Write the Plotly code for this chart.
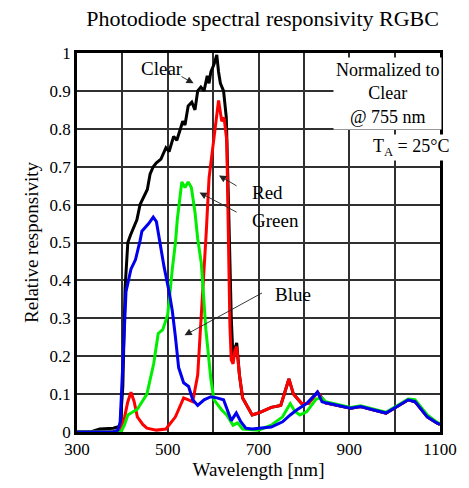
import plotly.graph_objects as go

# Clear (black)
clear_x = [300, 330, 350, 380, 395, 401, 406, 412, 418, 425, 432, 439, 447, 455, 461, 468, 475, 485, 496, 503, 513, 520, 528, 533, 538, 545, 553, 560, 566, 573, 580, 587, 591, 595, 602, 608, 612, 616, 623, 629, 634, 640, 644, 648, 652, 658, 665, 686, 700, 728, 749, 767, 777, 795, 810, 830, 848, 903, 925, 954, 981, 1009, 1030, 1045, 1072, 1093, 1100]
clear_y = [0, 0, 0.008, 0.01, 0.015, 0.12, 0.38, 0.5, 0.52, 0.54, 0.56, 0.6, 0.62, 0.64, 0.68, 0.7, 0.71, 0.72, 0.75, 0.74, 0.78, 0.77, 0.8, 0.82, 0.81, 0.86, 0.87, 0.85, 0.9, 0.91, 0.9, 0.94, 0.92, 0.95, 0.97, 0.995, 0.95, 0.92, 0.9, 0.83, 0.6, 0.3, 0.19, 0.22, 0.235, 0.15, 0.09, 0.045, 0.05, 0.065, 0.07, 0.14, 0.1, 0.075, 0.075, 0.105, 0.077, 0.063, 0.067, 0.058, 0.05, 0.07, 0.085, 0.08, 0.04, 0.024, 0.02]

# Red
red_x = [300, 395, 405, 412, 419, 426, 433, 445, 454, 475, 496, 517, 535, 546, 555, 566, 577, 585, 591, 598, 605, 612, 619, 624, 630, 634, 637, 640, 644, 648, 652, 658, 665, 686, 700, 728, 749, 767, 777, 795, 810, 830, 848, 903, 925, 954, 981, 1009, 1030, 1045, 1072, 1093, 1100]
red_y = [0, 0, 0.04, 0.08, 0.105, 0.08, 0.04, 0.02, 0.01, 0.005, 0.008, 0.04, 0.09, 0.085, 0.08, 0.15, 0.36, 0.53, 0.67, 0.74, 0.82, 0.875, 0.82, 0.83, 0.77, 0.5, 0.28, 0.19, 0.18, 0.215, 0.225, 0.15, 0.09, 0.045, 0.05, 0.065, 0.07, 0.14, 0.1, 0.075, 0.075, 0.105, 0.077, 0.063, 0.067, 0.058, 0.05, 0.07, 0.085, 0.08, 0.04, 0.024, 0.02]

# Green
green_x = [300, 397, 405, 412, 433, 454, 469, 479, 489, 500, 510, 517, 521, 531, 538, 545, 552, 560, 566, 574, 584, 595, 602, 619, 630, 644, 654, 665, 700, 728, 753, 770, 780, 791, 806, 827, 840, 848, 903, 925, 954, 981, 1009, 1030, 1045, 1072, 1093, 1100]
green_y = [0, 0, 0.02, 0.045, 0.06, 0.1, 0.18, 0.26, 0.27, 0.31, 0.43, 0.5, 0.56, 0.66, 0.645, 0.66, 0.645, 0.58, 0.51, 0.445, 0.27, 0.14, 0.085, 0.058, 0.045, 0.018, 0.024, 0.008, 0.005, 0.018, 0.04, 0.075, 0.055, 0.045, 0.053, 0.087, 0.09, 0.08, 0.065, 0.069, 0.06, 0.052, 0.072, 0.087, 0.085, 0.045, 0.026, 0.022]

# Blue
blue_x = [300, 380, 390, 395, 401, 408, 419, 429, 439, 443, 458, 468, 475, 482, 492, 503, 510, 517, 524, 535, 546, 555, 566, 580, 595, 608, 623, 633, 640, 651, 661, 672, 686, 728, 753, 770, 784, 806, 830, 840, 848, 903, 925, 954, 981, 1009, 1030, 1045, 1072, 1093, 1100]
blue_y = [0, 0, 0.005, 0.025, 0.18, 0.37, 0.43, 0.455, 0.505, 0.53, 0.55, 0.567, 0.555, 0.505, 0.435, 0.37, 0.32, 0.25, 0.17, 0.13, 0.12, 0.085, 0.07, 0.085, 0.093, 0.09, 0.085, 0.053, 0.03, 0.05, 0.027, 0.01, 0.008, 0.013, 0.027, 0.045, 0.058, 0.075, 0.105, 0.08, 0.077, 0.063, 0.067, 0.058, 0.05, 0.07, 0.085, 0.08, 0.04, 0.024, 0.02]

x_grid = [300, 400, 500, 600, 700, 800, 900, 1000, 1100]
x_ticks = [300, 500, 700, 900, 1100]
y_ticks = [0, 0.1, 0.2, 0.3, 0.4, 0.5, 0.6, 0.7, 0.8, 0.9, 1]
y_tick_text = ["0", "0.1", "0.2", "0.3", "0.4", "0.5", "0.6", "0.7", "0.8", "0.9", "1"]

SERIF = "Liberation Serif, Times New Roman, serif"
GRID = "#303030"

fig = go.Figure()

for xs, ys, col in [(clear_x, clear_y, "black"), (red_x, red_y, "#ff0000"),
                    (green_x, green_y, "#00ee00"), (blue_x, blue_y, "#0000ee")]:
    fig.add_trace(go.Scatter(x=xs, y=ys, mode="lines", line=dict(color=col, width=3),
                             showlegend=False, hoverinfo="skip"))

FS = 19

def arrow(text, tx, ty, hx, hy, lx, ly, xanchor="left"):
    fig.add_annotation(x=hx, y=hy, ax=tx, ay=ty, xref="x", yref="y", axref="x", ayref="y",
                       text=" ", showarrow=True, arrowhead=2, arrowsize=1.6, arrowwidth=0.9,
                       arrowcolor="#222", font=dict(size=1))
    fig.add_annotation(x=lx, y=ly, xref="x", yref="y", text=text, showarrow=False,
                       xanchor=xanchor, font=dict(family=SERIF, size=FS, color="black"))

arrow("Clear", 527, 0.94, 557, 0.92, 538, 0.958, xanchor="right")
arrow("Red", 655, 0.647, 613, 0.677, 681, 0.633)
arrow("Green", 655, 0.578, 570, 0.632, 681, 0.557)
arrow("Blue", 711, 0.369, 537, 0.255, 733, 0.364)

fig.add_annotation(x=985, y=0.893, xref="x", yref="y",
                   text="Normalized to<br>Clear<br>@ 755 nm", showarrow=False,
                   font=dict(family=SERIF, size=18, color="black"), bgcolor="white",
                   align="center", borderpad=2)
fig.add_annotation(x=1035, y=0.75, xref="x", yref="y",
                   text="T<sub>A</sub> = 25°C", showarrow=False,
                   font=dict(family=SERIF, size=18, color="black"), bgcolor="white")

fig.update_layout(
    width=469, height=488,
    margin=dict(l=77, r=13, t=53, b=56),
    paper_bgcolor="white", plot_bgcolor="white",
    title=dict(text="Photodiode spectral responsivity RGBC", x=0.56, xanchor="center",
               y=0.962, yanchor="middle",
               font=dict(family=SERIF, size=22, color="black")),
    xaxis=dict(range=[300, 1100], tickmode="array", tickvals=x_grid,
               ticktext=[str(v) if v in x_ticks else "" for v in x_grid],
               ticklabeloverflow="allow",
               showgrid=True, gridcolor=GRID, gridwidth=2, zeroline=False,
               showline=True, linecolor="black", linewidth=2.5, mirror=True,
               ticks="", tickfont=dict(family=SERIF, size=17, color="black"),
               title=dict(text="Wavelength [nm]", standoff=2,
                          font=dict(family=SERIF, size=19, color="black"))),
    yaxis=dict(range=[0, 1], tickmode="array", tickvals=y_ticks, ticktext=y_tick_text,
               showgrid=True, gridcolor=GRID, gridwidth=2, zeroline=False,
               showline=True, linecolor="black", linewidth=2.5, mirror=True,
               ticks="", tickfont=dict(family=SERIF, size=17, color="black"),
               title=dict(text="Relative responsivity", standoff=6,
                          font=dict(family=SERIF, size=19, color="black"))),
)

fig.write_html("out.html")
